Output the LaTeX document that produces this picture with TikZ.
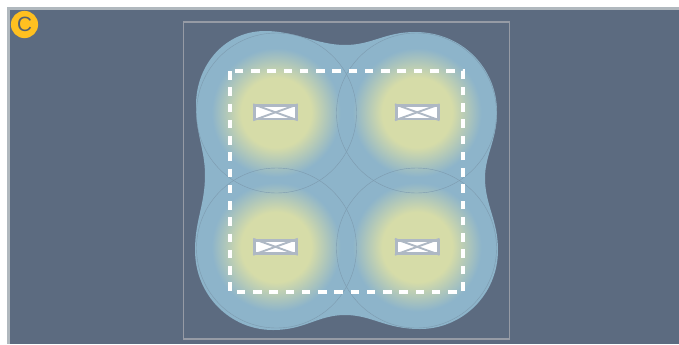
\documentclass[tikz,border=0pt]{standalone}
\usepackage{fontspec}
\setsansfont{Liberation Sans}
\usetikzlibrary{positioning}
\definecolor{roomslate}{RGB}{92,107,128}
\definecolor{edgegray}{RGB}{176,184,190}
\definecolor{framegray}{RGB}{150,155,165}
\definecolor{spreadblue}{RGB}{141,180,202}
\definecolor{coneblue}{RGB}{125,155,175}
\definecolor{hotyellow}{RGB}{214,220,168}
\definecolor{lampgray}{RGB}{174,184,196}
\definecolor{badgeyellow}{RGB}{255,192,32}
\definecolor{badgetext}{RGB}{85,96,110}
\pgfdeclareradialshading{lampglow}{\pgfpoint{0bp}{0bp}}{
    color(0bp)=(hotyellow);
    color(12.5bp)=(hotyellow);
    color(23bp)=(spreadblue);
    color(50bp)=(spreadblue)
}
\begin{document}
\begin{tikzpicture}[
    x=0.75pt,
    y=-0.75pt,
    font=\sffamily,
    cone/.style={draw=coneblue, line width=0.3pt},
    glow/.style={shading=lampglow},
    lamp/.style={
        rectangle,
        draw=lampgray,
        fill=white,
        line width=2.1pt,
        inner sep=0pt,
        minimum width=31.4pt,
        minimum height=9.9pt
    },
    crossline/.style={draw=lampgray, line width=1.4pt},
    badge/.style={
        circle,
        fill=badgeyellow,
        text=badgetext,
        inner sep=0pt,
        minimum size=20.4pt,
        font=\sffamily\fontsize{15.5}{15.5}\selectfont
    }
]
\useasboundingbox (0,0) rectangle (679,344);

% Room background
\fill[white] (0,0) rectangle (679,344);
\fill[edgegray] (7,7) rectangle (679,344);
\fill[roomslate] (10,10) rectangle (679,344);

% Outer frame
\draw[framegray, line width=1.1pt] (183.5,22) rectangle (509.5,339);

% Light spread
\fill[spreadblue] (265,31)
    .. controls (295,31) and (318,45) .. (345,45)
    .. controls (372,45) and (385,32) .. (415,32)
    .. controls (462,32) and (497,68) .. (497,112)
    .. controls (497,140) and (485,155) .. (485,178)
    .. controls (485,205) and (498,220) .. (498,250)
    .. controls (498,295) and (462,329) .. (420,329)
    .. controls (385,329) and (372,315) .. (345,315)
    .. controls (318,315) and (305,330) .. (273,330)
    .. controls (230,330) and (195,295) .. (195,250)
    .. controls (195,220) and (205,205) .. (205,175)
    .. controls (205,150) and (196,135) .. (196,105)
    .. controls (196,65) and (225,31) .. (265,31) -- cycle;

% Glow under each lamp
\shade[glow] (276,112.5) circle[radius=70];
\shade[glow] (417,112.5) circle[radius=70];
\shade[glow] (276,247) circle[radius=70];
\shade[glow] (417,247) circle[radius=70];

% Light cones
\draw[cone] (276.5,113) circle[radius=80];
\draw[cone] (416.5,113) circle[radius=80];
\draw[cone] (276.5,248) circle[radius=80];
\draw[cone] (416.5,248) circle[radius=80];

% Dashed work area
\draw[white, line width=2.4pt, dash pattern=on 6.4pt off 5.8pt] (230,71) rectangle (463,292);

% Lamps
\node[lamp] (lampa) at (275.5,112.3) {};
\node[lamp] (lampb) at (417.2,112.3) {};
\node[lamp] (lampc) at (275.5,246.8) {};
\node[lamp] (lampd) at (417.2,246.8) {};

\draw[crossline] (lampa.north west) -- (lampa.south east);
\draw[crossline] (lampa.south west) -- (lampa.north east);
\draw[crossline] (lampb.north west) -- (lampb.south east);
\draw[crossline] (lampb.south west) -- (lampb.north east);
\draw[crossline] (lampc.north west) -- (lampc.south east);
\draw[crossline] (lampc.south west) -- (lampc.north east);
\draw[crossline] (lampd.north west) -- (lampd.south east);
\draw[crossline] (lampd.south west) -- (lampd.north east);

% Panel letter
\node[badge] (panel) at (24.5,24.5) {C};

\end{tikzpicture}
\end{document}
